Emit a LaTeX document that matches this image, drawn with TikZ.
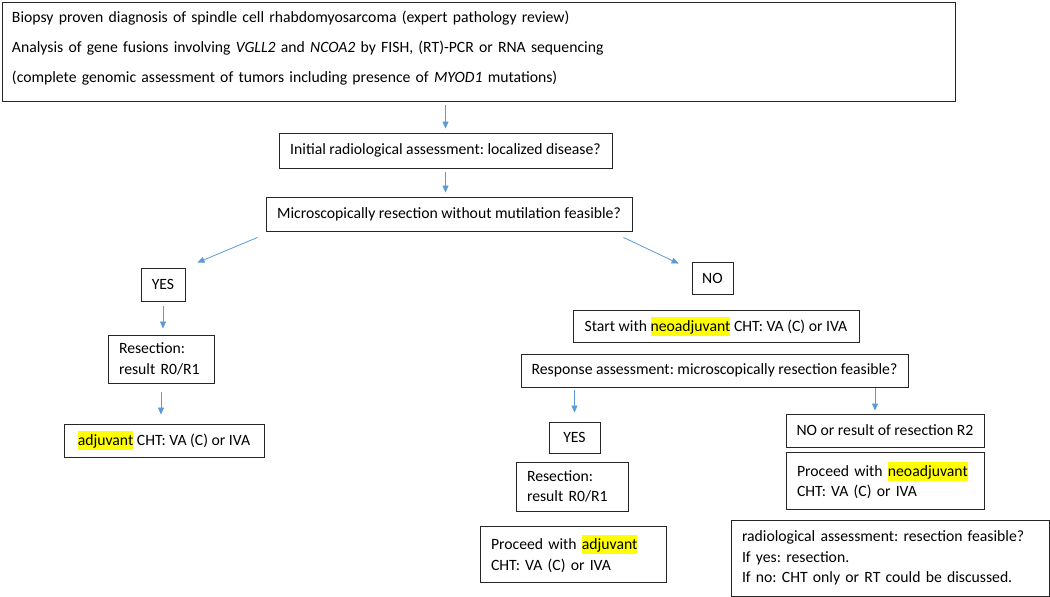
\documentclass[tikz,border=0pt]{standalone}
\usepackage{fontspec}
\setmainfont{Carlito}
\usetikzlibrary{arrows.meta, positioning}
\definecolor{arrowblue}{HTML}{5B9BD5}
\definecolor{hiyellow}{HTML}{FFFF00}
\newcommand{\hilite}[1]{{\setlength{\fboxsep}{0pt}\colorbox{hiyellow}{\rule[-4.5pt]{0pt}{19pt}#1}}}
\frenchspacing

\begin{document}
\begin{tikzpicture}[x=1pt, y=-1pt,
    box/.style={draw=black!85, line width=0.9pt, rectangle, inner sep=0pt, font=\fontsize{15.7}{20.5}\selectfont},
    leftbox/.style={box, align=left, inner xsep=11pt, text width=#1},
    arr/.style={arrowblue, line width=0.8pt, -{Triangle[length=7pt,width=6pt]}, shorten <=4pt, shorten >=4pt}]
    \useasboundingbox (0,0) rectangle (1050,597);

    % diagnosis
    \node[box, align=left, inner xsep=10pt, text width=933pt, minimum height=99pt, text depth=70pt,
          font=\fontsize{15.7}{30}\selectfont] (diag) at (478.5,51.5)
        {Biopsy proven diagnosis of spindle cell rhabdomyosarcoma (expert pathology review)\\
         Analysis of gene fusions involving \textit{VGLL2} and \textit{NCOA2} by FISH, (RT)-PCR or RNA sequencing\\
         (complete genomic assessment of tumors including presence of \textit{MYOD1} mutations)};
    \node[box, minimum width=333pt, minimum height=35pt] (initial) at (445.5,150.5)
        {Initial radiological assessment: localized disease?};
    \node[box, minimum width=366pt, minimum height=34pt] (micro) at (449,214)
        {Microscopically resection without mutilation feasible?};

    % left branch
    \node[box, minimum width=44pt, minimum height=33pt] (yesA) at (163,284.5) {YES};
    \node[leftbox=84pt, minimum height=48pt] (resA) at (161,359) {Resection:\\result R0/R1};
    \node[box, minimum width=200pt, minimum height=33pt] (adjA) at (164,440.5)
        {\hilite{adjuvant} CHT: VA (C) or IVA};

    % right branch
    \node[box, minimum width=41pt, minimum height=32pt] (noA) at (712.5,278) {NO};
    \node[box, minimum width=286pt, minimum height=32pt] (start) at (716,326)
        {Start with \hilite{neoadjuvant} CHT: VA (C) or IVA};
    \node[box, minimum width=387pt, minimum height=33pt] (resp) at (714.5,370.5)
        {Response assessment: microscopically resection feasible?};
    \node[box, minimum width=51pt, minimum height=31pt] (yesB) at (574.5,437.5) {YES};
    \node[leftbox=90pt, minimum height=49pt] (resB) at (572,486.5) {Resection:\\result R0/R1};
    \node[leftbox=164pt, minimum height=56pt] (adjB) at (573,554)
        {Proceed with \hilite{adjuvant}\\CHT: VA (C) or IVA};
    \node[box, minimum width=198pt, minimum height=33pt] (noB) at (885,430.5)
        {NO or result of resection R2};
    \node[leftbox=176pt, minimum height=57pt] (neoB) at (885,480.5)
        {Proceed with \hilite{neoadjuvant}\\CHT: VA (C) or IVA};
    \node[leftbox=296pt, minimum height=76pt] (radio) at (890,558)
        {radiological assessment: resection feasible?\\If yes: resection.\\If no: CHT only or RT could be discussed.};

    % arrows
    \draw[arr] (diag.south -| initial.north) -- (initial.north);
    \draw[arr] (initial.south) -- (initial.south |- micro.north);
    \draw[arr, shorten <=0pt, shorten >=0pt] ([xshift=-8pt,yshift=-6pt]micro.south west) -- ([xshift=12pt,yshift=5pt]yesA.north east);
    \draw[arr, shorten <=0pt, shorten >=0pt] ([xshift=-9pt,yshift=-6pt]micro.south east) -- ([xshift=-13pt,yshift=-2pt]noA.north west);
    \draw[arr, shorten <=5pt, shorten >=6pt] (yesA.south) -- (yesA.south |- resA.north);
    \draw[arr, shorten <=9pt, shorten >=9pt] (resA.south) -- (resA.south |- adjA.north);
    \draw[arr, shorten <=3pt, shorten >=9pt] (resp.south -| yesB.north) -- (yesB.north);
    \draw[arr, shorten <=1pt, shorten >=3pt] ([xshift=-10pt]resp.south -| noB.north) -- ([xshift=-10pt]noB.north);
\end{tikzpicture}
\end{document}
